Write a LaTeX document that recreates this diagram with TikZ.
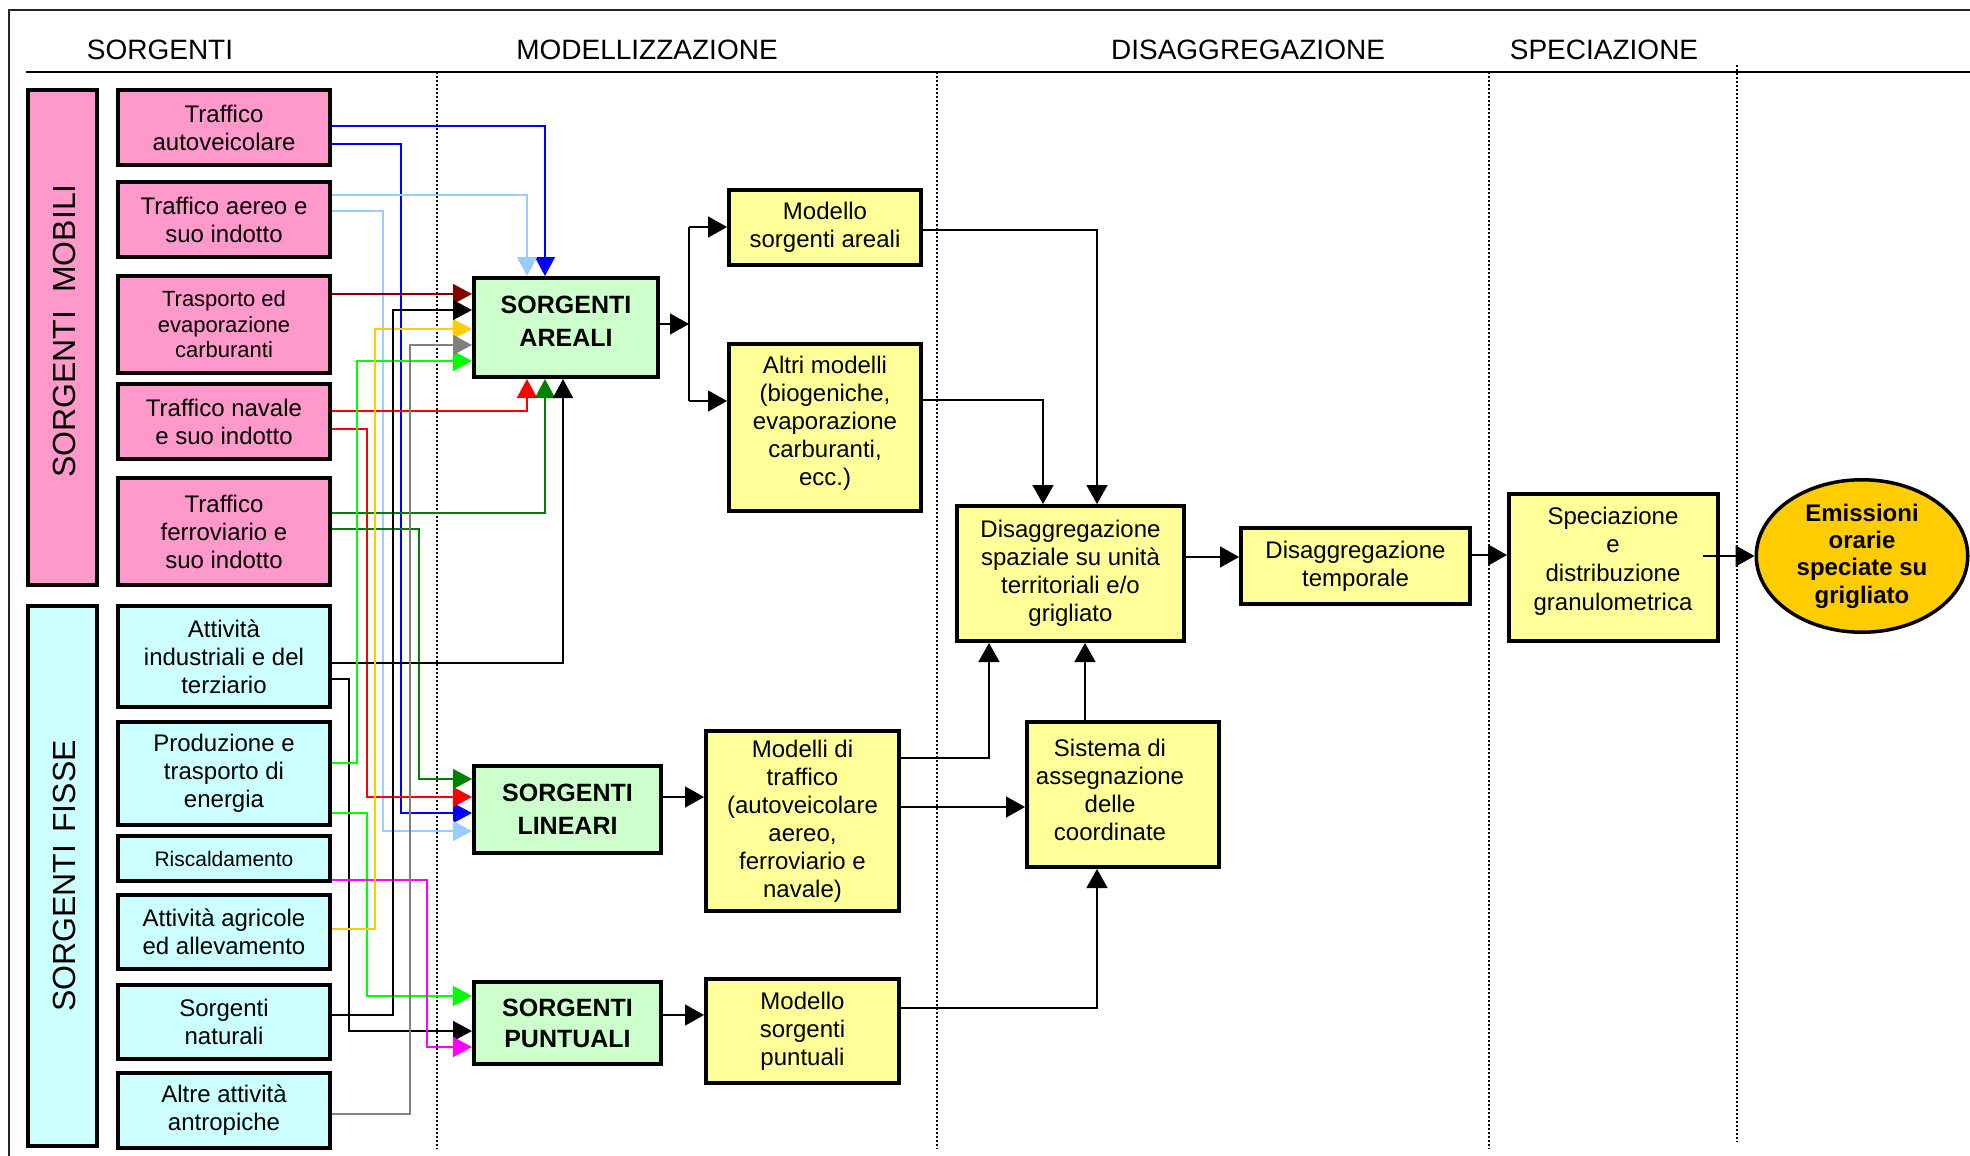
\documentclass[tikz,border=0pt]{standalone}
\usepackage{fontspec}
\setmainfont{Liberation Sans}
\usetikzlibrary{arrows.meta,shapes.geometric}
\definecolor{cpink}{RGB}{255,153,204}
\definecolor{ccyan}{RGB}{204,255,255}
\definecolor{cgreen}{RGB}{204,255,204}
\definecolor{cyellow}{RGB}{255,255,153}
\definecolor{corange}{RGB}{255,204,0}
\definecolor{lnblue}{RGB}{0,0,255}
\definecolor{lnlblue}{RGB}{153,204,255}
\definecolor{lndred}{RGB}{128,0,0}
\definecolor{lnred}{RGB}{255,0,0}
\definecolor{lndgreen}{RGB}{0,128,0}
\definecolor{lngreen}{RGB}{0,255,0}
\definecolor{lnyellow}{RGB}{255,204,0}
\definecolor{lngray}{RGB}{128,128,128}
\definecolor{lnmag}{RGB}{255,0,255}
\tikzset{
  box/.style={draw, line width=2pt, rectangle, inner sep=0pt, align=center,
              font=\fontsize{12}{14}\selectfont},
  txt/.style={inner sep=0pt, align=center, font=\fontsize{12}{14}\selectfont},
  hdr/.style={inner sep=0pt, font=\fontsize{14}{16}\selectfont},
  side/.style={inner sep=0pt, rotate=90, font=\fontsize{16}{18}\selectfont},
  grn/.style={box, fill=cgreen, font=\bfseries\fontsize{12.5}{16.5}\selectfont},
  grntxt/.style={inner sep=0pt, align=center, font=\bfseries\fontsize{12.5}{16.5}\selectfont},
  conn/.style={line width=0.8pt, -{Triangle[length=9.5pt,width=10.5pt]}},
  col/.style={line width=0.75pt, draw=#1, -{Triangle[length=9.5pt,width=10pt]}},
  sep/.style={line width=0.8pt, dash pattern=on 0.9pt off 1.1pt},
}
\begin{document}
\begin{tikzpicture}[x=0.5pt,y=-0.5pt]
\useasboundingbox (0,0) rectangle (1970,1156);
% frame and header
\draw[line width=1pt, black!85] (9,1156) -- (9,10) -- (1970,10);
\draw[line width=1pt] (26,72) -- (1970,72);
\node[hdr, anchor=base] (h1) at (160,60) {SORGENTI};
\node[hdr, anchor=base] (h2) at (647,60) {MODELLIZZAZIONE};
\node[hdr, anchor=base] (h3) at (1248,60) {DISAGGREGAZIONE};
\node[hdr, anchor=base] (h4) at (1604,60) {SPECIAZIONE};
% dotted separators
\draw[sep] (437,72) -- (437,1149);
\draw[sep] (937,72) -- (937,1149);
\draw[sep] (1489,72) -- (1489,1149);
\draw[sep] (1737,65) -- (1737,1142);

% side boxes
\node[box, fill=cpink, minimum width=34.5pt, minimum height=247.5pt] (MOB) at (62.5,337.5) {};
\node[side] (MOBt) at (64,331) {SORGENTI\hspace{9pt}MOBILI};
\node[box, fill=ccyan, minimum width=34.5pt, minimum height=270pt] (FIS) at (62.5,876) {};
\node[side] (FISt) at (64,876) {SORGENTI\hspace{6pt}FISSE};

% source boxes
\node[box, fill=cpink, minimum width=106pt, minimum height=37.5pt] (P1) at (224,127.5) {Traffico\\autoveicolare};
\node[box, fill=cpink, minimum width=106pt, minimum height=37.5pt] (P2) at (224,219.5) {Traffico aereo e\\suo indotto};
\node[box, fill=cpink, minimum width=106pt, minimum height=48.5pt, font=\fontsize{11}{12.8}\selectfont] (P3) at (224,324.5) {Trasporto ed\\evaporazione\\carburanti};
\node[box, fill=cpink, minimum width=106pt, minimum height=37.5pt] (P4) at (224,421.5) {Traffico navale\\e suo indotto};
\node[box, fill=cpink, minimum width=106pt, minimum height=53.5pt] (P5) at (224,531.5) {Traffico\\ferroviario e\\suo indotto};
\node[box, fill=ccyan, minimum width=106pt, minimum height=50.5pt] (C1) at (224,656.5) {Attività\\industriali e del\\terziario};
\node[box, fill=ccyan, minimum width=106pt, minimum height=51.5pt] (C2) at (224,773.5) {Produzione e\\trasporto di\\energia};
\node[box, fill=ccyan, minimum width=106pt, minimum height=22.5pt, font=\fontsize{10.5}{12}\selectfont] (C3) at (224,858.5) {Riscaldamento};
\node[box, fill=ccyan, minimum width=106pt, minimum height=37pt] (C4) at (224,932) {Attività agricole\\ed allevamento};
\node[box, fill=ccyan, minimum width=106pt, minimum height=37pt] (C5) at (224,1022) {Sorgenti\\naturali};
\node[box, fill=ccyan, minimum width=106pt, minimum height=37.5pt] (C6) at (224,1110.5) {Altre attività\\antropiche};

% green boxes
\node[grn, minimum width=92pt, minimum height=49.5pt] (AR) at (566,327.5) {};
\node[grntxt] (ARt) at (566,321) {SORGENTI\\AREALI};
\node[grn, minimum width=93.5pt, minimum height=43.5pt] (LI) at (567.5,809.5) {SORGENTI\\LINEARI};
\node[grn, minimum width=93.5pt, minimum height=41pt, font=\bfseries\fontsize{12.5}{15.5}\selectfont] (PU) at (567.5,1023) {SORGENTI\\PUNTUALI};

% yellow boxes
\node[box, fill=cyellow, minimum width=96pt, minimum height=37.5pt] (MSA) at (825,227.5) {Modello\\sorgenti areali};
\node[box, fill=cyellow, minimum width=96pt, minimum height=83.5pt] (ALT) at (825,427.5) {};
\node[txt] (ALTt) at (825,423) {Altri modelli\\(biogeniche,\\evaporazione\\carburanti,\\ecc.)};
\node[box, fill=cyellow, minimum width=113.5pt, minimum height=67.5pt] (DSP) at (1070.5,573.5) {Disaggregazione\\spaziale su unità\\territoriali e/o\\grigliato};
\node[box, fill=cyellow, minimum width=114.5pt, minimum height=38pt] (DTM) at (1355.5,566) {Disaggregazione\\temporale};
\node[box, fill=cyellow, minimum width=104.5pt, minimum height=73.5pt] (SPC) at (1613.5,567.5) {};
\node[txt, font=\fontsize{12}{14.3}\selectfont] (SPCt) at (1613,561) {Speciazione\\e\\distribuzione\\granulometrica};
\node[box, fill=cyellow, minimum width=96.5pt, minimum height=90pt] (MTR) at (802.5,821) {Modelli di\\traffico\\(autoveicolare\\aereo,\\ferroviario e\\navale)};
\node[box, fill=cyellow, minimum width=96pt, minimum height=72.5pt] (SIS) at (1123,794.5) {};
\node[txt] (SISt) at (1110,790) {Sistema di\\assegnazione\\delle\\coordinate};
\node[box, fill=cyellow, minimum width=96.5pt, minimum height=52pt] (MSP) at (802.5,1031) {Modello\\sorgenti\\puntuali};
\node[draw, ellipse, line width=1.75pt, fill=corange, inner sep=0pt, align=center,
      minimum width=105.75pt, minimum height=76.25pt,
      font=\bfseries\fontsize{12}{13.7}\selectfont] (ELL) at (1862,556) {Emissioni\\orarie\\speciate su\\grigliato};

% coloured connectors from the sources
\draw[col=lnblue] (P1.east |- 0,126) -| (545,0 |- AR.north);
\draw[col=lnblue] (P1.east |- 0,144) -| (401,813) -- (LI.west |- 0,813);
\draw[col=lnlblue] (P2.east |- 0,195) -| (527,0 |- AR.north);
\draw[col=lnlblue] (P2.east |- 0,211) -| (383,831) -- (LI.west |- 0,831);
\draw[col=lndred] (P3.east |- 0,294) -- (AR.west |- 0,294);
\draw[col=lnred] (P4.east |- 0,411) -| (527,0 |- AR.south);
\draw[col=lnred] (P4.east |- 0,429) -| (367,797) -- (LI.west |- 0,797);
\draw[col=lndgreen] (P5.east |- 0,513) -| (545,0 |- AR.south);
\draw[col=lndgreen] (P5.east |- 0,529) -| (419,779) -- (LI.west |- 0,779);
\draw[col=black] (C1.east |- 0,663) -| (563,0 |- AR.south);
\draw[col=black] (C1.east |- 0,679) -| (349,1031) -- (PU.west |- 0,1031);
\draw[col=lngreen] (C2.east |- 0,763) -| (357,361) -- (AR.west |- 0,361);
\draw[col=lngreen] (C2.east |- 0,813) -| (367,996) -- (PU.west |- 0,996);
\draw[col=lnmag] (C3.east |- 0,880) -| (427,1047) -- (PU.west |- 0,1047);
\draw[col=lnyellow] (C4.east |- 0,929) -| (375,329) -- (AR.west |- 0,329);
\draw[col=black] (C5.east |- 0,1015) -| (393,310) -- (AR.west |- 0,310);
\draw[col=lngray] (C6.east |- 0,1114) -| (410,345) -- (AR.west |- 0,345);

% black connectors
\coordinate (busT) at (689,227);
\coordinate (busB) at (689,401);
\draw[conn] (AR.east |- 0,324) -- (busT |- 0,324);
\draw[line width=0.8pt] (busT) -- (busB);
\draw[conn] (busT) -- (MSA.west |- busT);
\draw[conn] (busB) -- (ALT.west |- busB);
\draw[conn] (MSA.east |- 0,230) -| (1097,0 |- DSP.north);
\draw[conn] (ALT.east |- 0,400) -| (1043,0 |- DSP.north);
\draw[conn] (DSP.east |- 0,557) -- (DTM.west |- 0,557);
\draw[conn] (DTM.east |- 0,555) -- (SPC.west |- 0,555);
\draw[conn, shorten <=-8.5pt] (SPC.east |- ELL.west) -- (ELL.west);
\draw[conn] (LI.east |- 0,797) -- (MTR.west |- 0,797);
\draw[conn] (PU.east |- 0,1015) -- (MSP.west |- 0,1015);
\draw[conn] (MTR.east |- 0,758) -| (989,0 |- DSP.south);
\draw[conn] (MTR.east |- 0,807) -- (SIS.west |- 0,807);
\draw[conn] (1085,0 |- SIS.north) -- (1085,0 |- DSP.south);
\draw[conn] (MSP.east |- 0,1008) -| (1097,0 |- SIS.south);
\end{tikzpicture}
\end{document}
